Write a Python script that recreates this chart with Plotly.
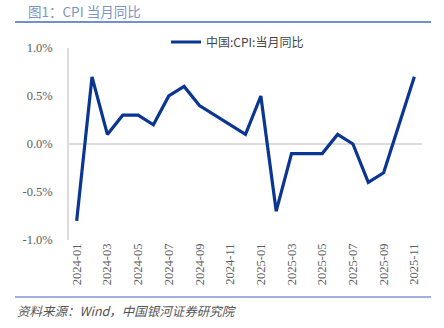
import plotly.graph_objects as go

# Monthly CPI year-on-year (%), Jan 2024 - Nov 2025
months = ["2024-01", "2024-02", "2024-03", "2024-04", "2024-05", "2024-06",
          "2024-07", "2024-08", "2024-09", "2024-10", "2024-11", "2024-12",
          "2025-01", "2025-02", "2025-03", "2025-04", "2025-05", "2025-06",
          "2025-07", "2025-08", "2025-09", "2025-10", "2025-11"]
cpi_yoy = [-0.8, 0.7, 0.1, 0.3, 0.3, 0.2, 0.5, 0.6, 0.4, 0.3, 0.2, 0.1,
           0.5, -0.7, -0.1, -0.1, -0.1, 0.1, 0.0, -0.4, -0.3, 0.2, 0.7]
y_ticks = [-1.0, -0.5, 0.0, 0.5, 1.0]
y_tick_text = ["-1.0%", "-0.5%", "0.0%", "0.5%", "1.0%"]
x_ticks = months[::2]

title_text = "图1：CPI 当月同比"
series_name = "中国:CPI:当月同比"
source_text = "资料来源：Wind，中国银河证券研究院"

W, H = 444, 328
L, R, T, B = 69, 422, 48, 240  # plot area in pixels


def px(x):
    return (x - L) / (R - L)


def py(y):
    return (B - y) / (B - T)


fig = go.Figure()
fig.add_trace(go.Scatter(
    x=months, y=cpi_yoy, mode="lines", name=series_name,
    line=dict(color="#0b3592", width=3.2),
))

fig.update_layout(
    width=W, height=H,
    margin=dict(l=L, r=W - R, t=T, b=H - B),
    paper_bgcolor="white", plot_bgcolor="white",
    showlegend=True,
    legend=dict(orientation="h", x=px(166), xanchor="left", y=py(42), yanchor="middle",
                font=dict(family="Noto Sans CJK SC", size=12, color="#444444"),
                bgcolor="rgba(0,0,0,0)", itemwidth=30),
    font=dict(family="Liberation Serif", color="#595959"),
)

fig.update_xaxes(
    type="category", range=[-0.5, len(months) - 0.5],
    tickmode="array", tickvals=x_ticks, ticktext=x_ticks,
    tickangle=-90, tickfont=dict(family="Liberation Serif", size=12.5, color="#606060"),
    showgrid=False, zeroline=False, showline=False, ticks="",
)
fig.update_yaxes(
    range=[-1.0, 1.0], tickmode="array", tickvals=y_ticks, ticktext=y_tick_text,
    tickfont=dict(family="Liberation Serif", size=12.5, color="#606060"),
    showgrid=False, zeroline=True, zerolinecolor="#dcdcdc", zerolinewidth=1.5,
    showline=True, linecolor="#dcdcdc", linewidth=1.5, ticks="", ticklabelstandoff=12,
)

# Header and footer rules
fig.add_shape(type="line", xref="paper", yref="paper",
              x0=px(15), x1=px(431), y0=py(22), y1=py(22),
              line=dict(color="#7190cc", width=2))
fig.add_shape(type="line", xref="paper", yref="paper",
              x0=px(15), x1=px(431), y0=py(297), y1=py(297),
              line=dict(color="#9db2db", width=2))

fig.add_annotation(text=title_text, xref="paper", yref="paper",
                   x=px(26), y=py(11), xanchor="left", yanchor="middle",
                   showarrow=False,
                   font=dict(family="Noto Sans CJK SC", size=13.5, color="#7d93c4"))
fig.add_annotation(text="<i>" + source_text + "</i>", xref="paper", yref="paper",
                   x=px(15), y=py(310), xanchor="left", yanchor="middle",
                   showarrow=False,
                   font=dict(family="Noto Sans CJK SC", size=12.5, color="#555555"))

fig.write_html("out.html")
